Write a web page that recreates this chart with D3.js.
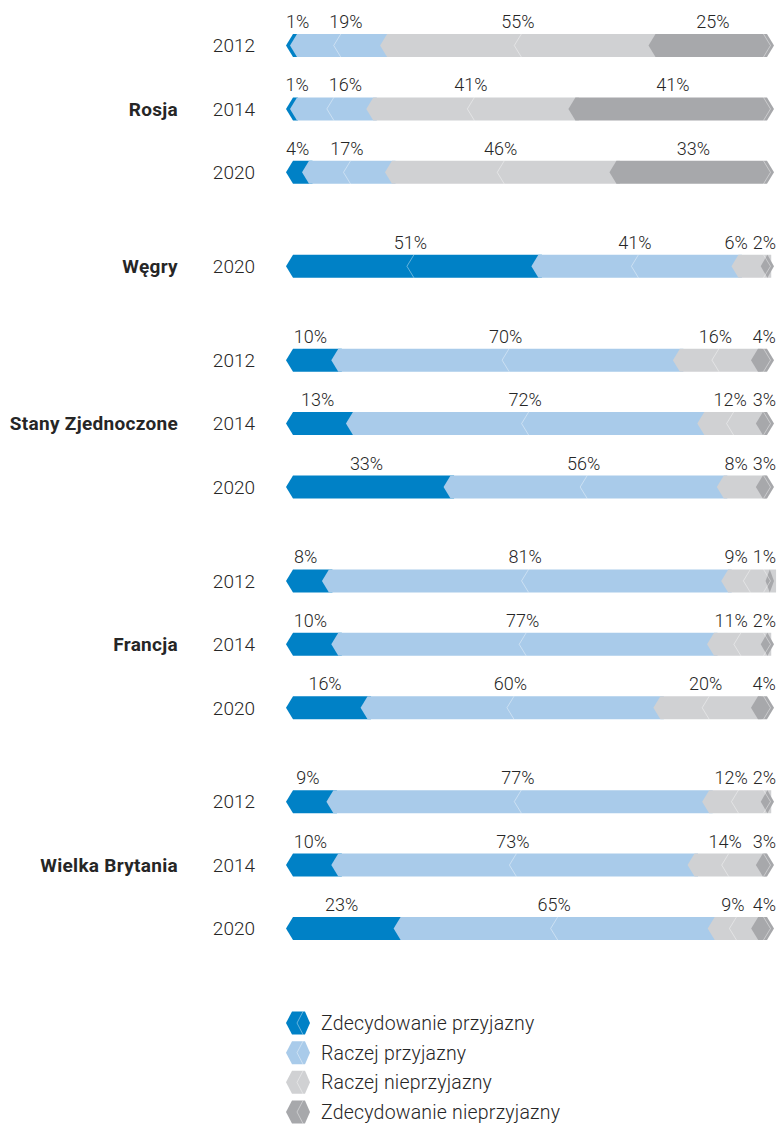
<!DOCTYPE html>
<meta charset="utf-8">
<title>Stosunek do Polski</title>
<style>

    body {
        margin: 0;
        background: #fff;
    }

    text {
        font-family: Roboto, "DejaVu Sans", sans-serif;
        fill: #262626;
    }

    .pct {
        font-size: 18px;
        font-weight: 300;
    }

    .year {
        font-size: 19px;
        font-weight: 300;
    }

    .legend text {
        font-size: 19.5px;
        font-weight: 300;
        letter-spacing: 0.2px;
    }

    .country {
        font-size: 19px;
        font-weight: 700;
        letter-spacing: 0.3px;
    }

</style>
<body>
<script src="https://cdn.jsdelivr.net/npm/d3@7"></script>
<script>

    var w = 779,
        h = 1124;

    // one entry per bar, top to bottom
    var rowCountry = ["Rosja", "Rosja", "Rosja", "Węgry",
        "Stany Zjednoczone", "Stany Zjednoczone", "Stany Zjednoczone",
        "Francja", "Francja", "Francja",
        "Wielka Brytania", "Wielka Brytania", "Wielka Brytania"];
    var rowYear = ["2012", "2014", "2020", "2020",
        "2012", "2014", "2020",
        "2012", "2014", "2020",
        "2012", "2014", "2020"];

    var seriesNames = ["Zdecydowanie przyjazny", "Raczej przyjazny",
        "Raczej nieprzyjazny", "Zdecydowanie nieprzyjazny"];
    var colors = ["#0081c6", "#a9cbea", "#d0d1d3", "#a7a8ab"];

    var strongFriendly   = [1, 1, 4, 51, 10, 13, 33, 8, 10, 16, 9, 10, 23];
    var ratherFriendly   = [19, 16, 17, 41, 70, 72, 56, 81, 77, 60, 77, 73, 65];
    var ratherUnfriendly = [55, 41, 46, 6, 16, 12, 8, 9, 11, 20, 12, 14, 9];
    var strongUnfriendly = [25, 41, 33, 2, 4, 3, 3, 1, 2, 4, 2, 3, 4];

    var series = [strongFriendly, ratherFriendly, ratherUnfriendly, strongUnfriendly];

    var countries = [];
    rowCountry.forEach(function(c) { if (countries.indexOf(c) < 0) countries.push(c); });

    // vertical slot: every row is one step, a new country adds a bit of air
    var rows = rowCountry.map(function(c, i) {
        var vals = series.map(function(s) { return s[i]; });
        var sum = d3.sum(vals), cum = 0;
        var segs = vals.map(function(v, k) {
            var s = {k: k, v: v, a: cum / sum * 100, b: (cum + v) / sum * 100};
            cum += v;
            return s;
        });
        return {i: i, country: c, year: rowYear[i], slot: i + countries.indexOf(c) * 0.48, segs: segs};
    });

    var x = d3.scaleLinear().domain([0, 100]).range([286, 774]);
    var y = d3.scaleLinear()
        .domain([0, d3.max(rows, function(d) { return d.slot; })])
        .range([45.5, 928.5]);

    var bh = 23,   // bar height
        p = 7;     // depth of the chevron

    var svg = d3.select("body").append("svg")
        .attr("width", w)
        .attr("height", h);

    function segPath(s, last) {
        var t = -bh / 2, b = bh / 2;
        var x0 = s.k === 0 || s.a === 0 ? x(s.a) : Math.max(x(s.a) - p / 2, x(0) + 4),
            xc = x0 + p;
        var pts;
        if (last) {
            var xe = x(100);
            var xc2 = Math.min(xc, (x0 + xe) / 2),
                xr = Math.max(xe - p, xc2);
            pts = [[x0, 0], [xc2, t], [xr, t], [xe, 0], [xr, b], [xc2, b]];
        } else {
            var xe2 = x(s.b) + p;
            pts = [[x0, 0], [xc, t], [xe2, t], [xe2, b], [xc, b]];
        }
        return "M" + pts.join("L") + "Z";
    }

    var row = svg.selectAll("g.row")
        .data(rows)
        .enter().append("g")
        .attr("class", "row")
        .attr("transform", function(d) { return "translate(0," + y(d.slot) + ")"; });

    row.append("text")
        .attr("class", "year")
        .attr("x", 255)
        .attr("dy", "0.36em")
        .attr("text-anchor", "end")
        .text(function(d) { return d.year; });

    row.selectAll("path.seg")
        .data(function(d) { return d.segs.filter(function(s) { return s.v > 0; }); })
        .enter().append("path")
        .attr("class", "seg")
        .attr("fill", function(s) { return colors[s.k]; })
        .attr("d", function(s) { return segPath(s, s.k === 3); });

    // faint chevron in the middle of the light segments (and a big dark blue one),
    // mirrored near the right end of the bar
    row.selectAll("path.mark")
        .data(function(d) { return d.segs.filter(function(s) { return s.v > 0; }); })
        .enter().append("path")
        .attr("class", "mark")
        .attr("fill", "none")
        .attr("stroke", "#fff")
        .attr("stroke-opacity", 0.4)
        .attr("stroke-width", 1)
        .attr("d", function(s) {
            if (s.k === 3) {
                var xe = x(100) - 3.5;
                return "M" + (xe - p) + "," + (-bh / 2) + "L" + xe + ",0L" + (xe - p) + "," + (bh / 2);
            }
            if (x(s.b) - x(s.a) < 40) return null;
            if (s.k === 0 && s.v <= 50) return null;
            var m = x((s.a + s.b) / 2);
            return "M" + (m + p / 2) + "," + (-bh / 2) + "L" + (m - p / 2) + ",0L" + (m + p / 2) + "," + (bh / 2);
        });

    // percentage labels above segments, kept inside the bar and apart
    row.each(function(d) {
        var g = d3.select(this);
        var labels = d.segs.map(function(s) {
            var t = g.append("text")
                .attr("class", "pct")
                .attr("y", -bh / 2 - 6)
                .attr("text-anchor", "middle")
                .text(s.v + "%");
            var wd = t.node().getComputedTextLength();
            return {t: t, w: wd, c: x((s.a + s.b) / 2)};
        });
        var lo = x(0), hi = x(100) + 2, gap = 5;
        labels.forEach(function(l) {
            l.pinned = l.c < lo + l.w / 2;
            l.c = Math.max(lo + l.w / 2, Math.min(hi - l.w / 2, l.c));
        });
        for (var k = labels.length - 2; k >= 0; k--) {
            var r = labels[k + 1], l = labels[k];
            var lim = r.c - r.w / 2 - gap - l.w / 2;
            if (l.c > lim) l.c = lim;
        }
        for (var j = 1; j < labels.length; j++) {
            var a = labels[j - 1], b = labels[j];
            var lim2 = a.c + a.w / 2 + (a.pinned ? 20 : gap) + b.w / 2;
            if (b.c < lim2) b.c = lim2;
        }
        labels.forEach(function(l) { l.t.attr("x", l.c); });
    });

    // country names, next to the middle row of each group
    svg.selectAll("text.country")
        .data(countries)
        .enter().append("text")
        .attr("class", "country")
        .attr("x", 178)
        .attr("dy", "0.36em")
        .attr("text-anchor", "end")
        .attr("y", function(c) {
            var r = rows.filter(function(d) { return d.country === c; });
            return y(d3.mean(r, function(d) { return d.slot; }));
        })
        .text(function(c) { return c; });

    // legend
    var ly = d3.scaleLinear().domain([0, 3]).range([1023, 1112]);

    var leg = svg.append("g")
        .attr("class", "legend")
        .selectAll("g")
        .data(seriesNames)
        .enter().append("g")
        .attr("transform", function(d, i) { return "translate(286," + ly(i) + ")"; });

    leg.append("path")
        .attr("fill", function(d, i) { return colors[i]; })
        .attr("d", "M0,0L6,-11.5L19,-11.5L24,0L19,11.5L6,11.5Z");

    leg.append("path")
        .attr("fill", "none")
        .attr("stroke", "#fff")
        .attr("stroke-opacity", 0.4)
        .attr("d", "M17,-11.5L11,0L17,11.5");

    leg.append("text")
        .attr("x", 35)
        .attr("dy", "0.36em")
        .text(function(d) { return d; });

</script>
